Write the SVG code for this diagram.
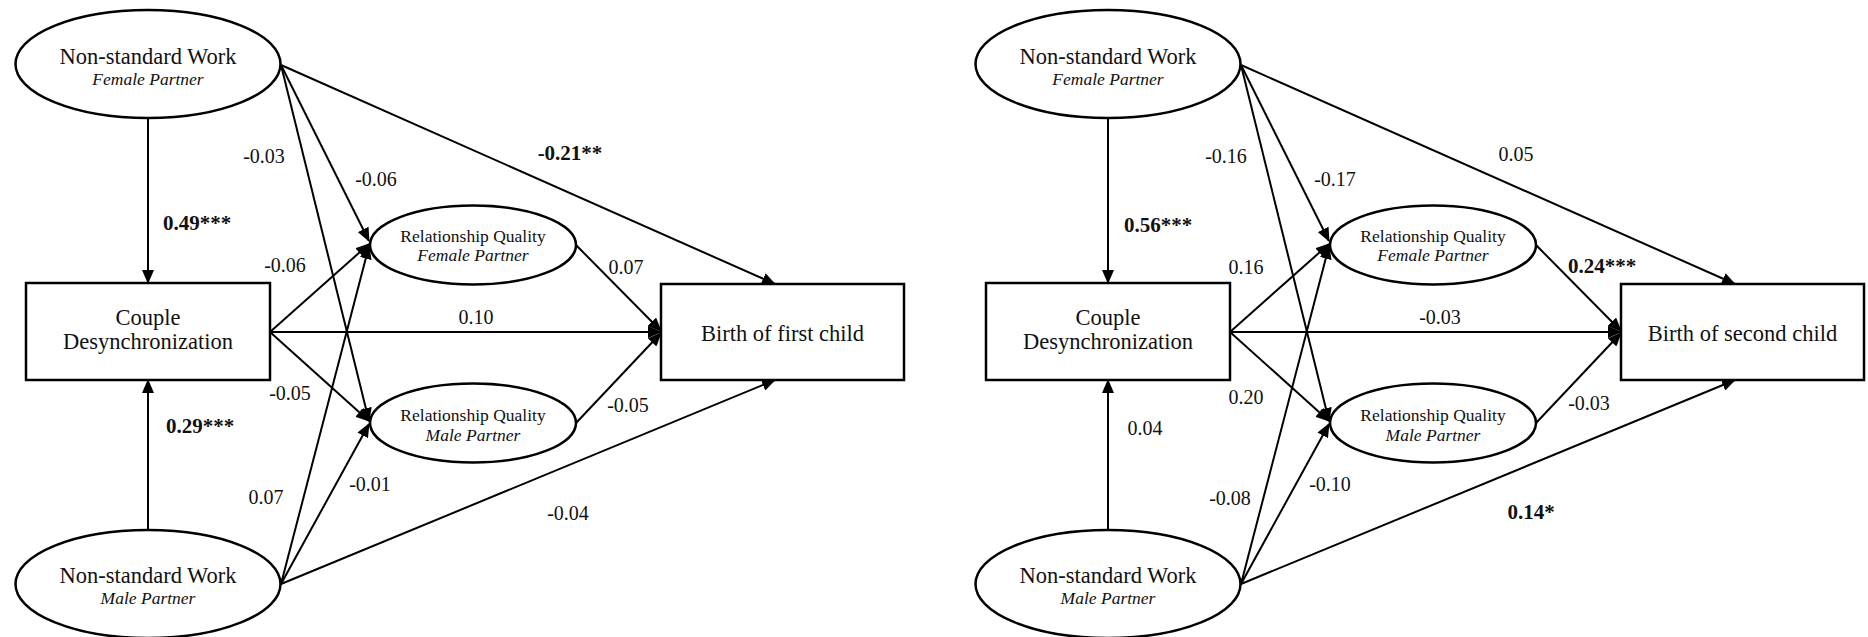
<svg xmlns="http://www.w3.org/2000/svg" width="1868" height="637" viewBox="0 0 1868 637">
<defs>
<marker id="ah" markerUnits="userSpaceOnUse" markerWidth="14" markerHeight="12" refX="13" refY="6" orient="auto" viewBox="0 0 14 12"><path d="M0,0 L14,6 L0,12 z" fill="#000"/></marker>
<style>
.node ellipse, .node rect {fill:#fff; stroke:#000; stroke-width:2.5}
.conn line {stroke:#000; stroke-width:2; marker-end:url(#ah)}
text {font-family:"Liberation Serif", "Times New Roman", serif; fill:#111; text-anchor:middle}
.t {font-size:22.5px}
.s {font-size:17.5px; font-style:italic}
.rq {font-size:17.5px}
.lb {font-size:20px}
.b {font-weight:bold; font-size:21px}
</style>
</defs>
<rect width="1868" height="637" fill="#fff"/>

<!-- LEFT PANEL -->
<g id="panel-first">
<g id="connectors-first" class="conn">
<line x1="148" y1="118" x2="148" y2="283"/>
<line x1="148" y1="530" x2="148" y2="380"/>
<line x1="281" y1="65" x2="775" y2="284"/>
<line x1="281" y1="65" x2="369" y2="241"/>
<line x1="281" y1="65" x2="369" y2="421"/>
<line x1="270" y1="332" x2="369" y2="244"/>
<line x1="270" y1="332" x2="661" y2="332"/>
<line x1="270" y1="332" x2="369" y2="421"/>
<line x1="281" y1="584" x2="369" y2="246"/>
<line x1="281" y1="584" x2="369" y2="424"/>
<line x1="281" y1="584" x2="775" y2="380"/>
<line x1="576" y1="245" x2="661" y2="331"/>
<line x1="576" y1="423" x2="661" y2="333"/>
</g>
<g id="nsw-female-1" class="node">
<ellipse cx="148" cy="64" rx="132.5" ry="54"/>
<text class="t" x="148" y="64">Non-standard Work</text>
<text class="s" x="148" y="85">Female Partner</text>
</g>
<g id="nsw-male-1" class="node">
<ellipse cx="148" cy="584" rx="132.5" ry="54"/>
<text class="t" x="148" y="583">Non-standard Work</text>
<text class="s" x="148" y="604">Male Partner</text>
</g>
<g id="couple-1" class="node">
<rect x="26" y="283" width="244" height="97"/>
<text class="t" x="148" y="325">Couple</text>
<text class="t" x="148" y="349">Desynchronization</text>
</g>
<g id="rq-female-1" class="node">
<ellipse cx="473" cy="245" rx="103" ry="39.5"/>
<text class="rq" x="473" y="242">Relationship Quality</text>
<text class="s" x="473" y="261">Female Partner</text>
</g>
<g id="rq-male-1" class="node">
<ellipse cx="473" cy="423" rx="103" ry="39.5"/>
<text class="rq" x="473" y="421">Relationship Quality</text>
<text class="s" x="473" y="441">Male Partner</text>
</g>
<g id="birth-first" class="node">
<rect x="661" y="284" width="243" height="96"/>
<text class="t" x="782.5" y="341">Birth of first child</text>
</g>
<g id="labels-first">
<text class="lb" x="264" y="163">-0.03</text>
<text class="lb" x="376" y="186">-0.06</text>
<text class="b" x="570" y="160">-0.21**</text>
<text class="b" x="197" y="230">0.49***</text>
<text class="lb" x="285" y="272">-0.06</text>
<text class="lb" x="626" y="274">0.07</text>
<text class="lb" x="476" y="324">0.10</text>
<text class="lb" x="290" y="400">-0.05</text>
<text class="b" x="200" y="433">0.29***</text>
<text class="lb" x="628" y="412">-0.05</text>
<text class="lb" x="266" y="504">0.07</text>
<text class="lb" x="370" y="491">-0.01</text>
<text class="lb" x="568" y="520">-0.04</text>
</g>
</g>

<!-- RIGHT PANEL -->
<g id="panel-second" transform="translate(960,0)">
<g id="connectors-second" class="conn">
<line x1="148" y1="118" x2="148" y2="283"/>
<line x1="148" y1="530" x2="148" y2="380"/>
<line x1="281" y1="65" x2="775" y2="284"/>
<line x1="281" y1="65" x2="369" y2="241"/>
<line x1="281" y1="65" x2="369" y2="421"/>
<line x1="270" y1="332" x2="369" y2="244"/>
<line x1="270" y1="332" x2="661" y2="332"/>
<line x1="270" y1="332" x2="369" y2="421"/>
<line x1="281" y1="584" x2="369" y2="246"/>
<line x1="281" y1="584" x2="369" y2="424"/>
<line x1="281" y1="584" x2="775" y2="380"/>
<line x1="576" y1="245" x2="661" y2="331"/>
<line x1="576" y1="423" x2="661" y2="333"/>
</g>
<g id="nsw-female-2" class="node">
<ellipse cx="148" cy="64" rx="132.5" ry="54"/>
<text class="t" x="148" y="64">Non-standard Work</text>
<text class="s" x="148" y="85">Female Partner</text>
</g>
<g id="nsw-male-2" class="node">
<ellipse cx="148" cy="584" rx="132.5" ry="54"/>
<text class="t" x="148" y="583">Non-standard Work</text>
<text class="s" x="148" y="604">Male Partner</text>
</g>
<g id="couple-2" class="node">
<rect x="26" y="283" width="244" height="97"/>
<text class="t" x="148" y="325">Couple</text>
<text class="t" x="148" y="349">Desynchronization</text>
</g>
<g id="rq-female-2" class="node">
<ellipse cx="473" cy="245" rx="103" ry="39.5"/>
<text class="rq" x="473" y="242">Relationship Quality</text>
<text class="s" x="473" y="261">Female Partner</text>
</g>
<g id="rq-male-2" class="node">
<ellipse cx="473" cy="423" rx="103" ry="39.5"/>
<text class="rq" x="473" y="421">Relationship Quality</text>
<text class="s" x="473" y="441">Male Partner</text>
</g>
<g id="birth-second" class="node">
<rect x="661" y="284" width="243" height="96"/>
<text class="t" x="782.5" y="341">Birth of second child</text>
</g>
<g id="labels-second">
<text class="lb" x="266" y="163">-0.16</text>
<text class="lb" x="375" y="186">-0.17</text>
<text class="lb" x="556" y="161">0.05</text>
<text class="b" x="198" y="232">0.56***</text>
<text class="lb" x="286" y="274">0.16</text>
<text class="lb" x="480" y="324">-0.03</text>
<text class="b" x="642" y="273">0.24***</text>
<text class="lb" x="286" y="404">0.20</text>
<text class="lb" x="185" y="435">0.04</text>
<text class="lb" x="270" y="505">-0.08</text>
<text class="lb" x="370" y="491">-0.10</text>
<text class="b" x="571" y="519">0.14*</text>
<text class="lb" x="629" y="410">-0.03</text>
</g>
</g>
</svg>
